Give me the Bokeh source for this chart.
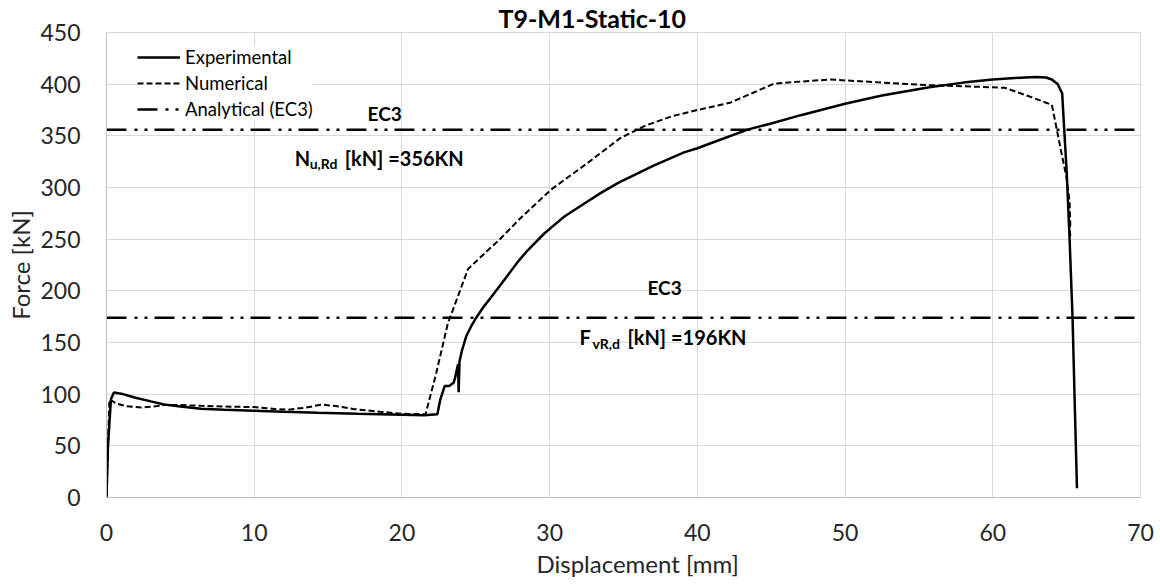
from bokeh.plotting import figure
from bokeh.models import Range1d, FixedTicker, Legend, LegendItem, Title
from bokeh.core.properties import value
from bokeh.embed import file_html
from bokeh.resources import INLINE

# ---------------- data ----------------
exp_x = [0, 0.1, 0.3, 0.5, 1.0, 1.9, 3.0, 3.9, 5.0, 6.4, 8.0, 10, 12, 14.3, 17, 20, 21.5,
         22.4, 22.6, 22.9, 23.2, 23.5, 23.6, 23.8, 23.84, 23.9, 24.06, 24.35, 24.7, 25.03,
         25.5, 26.05, 26.9, 27.9, 28.5, 29.6, 30, 31, 32.3, 33.5, 34.7, 35.3, 37, 39.1, 40,
         41.5, 43.4, 45, 47, 50, 52.5, 55.7, 58, 60, 61.5, 62.9, 63.6, 64.0, 64.4, 64.7,
         64.8, 65.0, 65.2, 65.4, 65.55, 65.7]
exp_y = [0, 50, 95, 101.6, 100.5, 96.8, 93, 90, 88, 86, 85, 84, 83, 82, 81, 80, 79.5,
         80.5, 95, 108, 108, 111, 116, 129, 102, 132, 142, 156, 166, 174,
         184, 194, 210, 229, 239, 255, 260, 272, 284, 295, 305, 309, 321, 334, 338,
         346, 356, 362, 370, 381, 389, 397, 401.5, 404.5, 406, 407, 406.5, 404.5, 400, 391,
         365, 316, 250, 174, 90, 9]

num_x = [0, 0.1, 0.2, 0.66, 1.3, 2.35, 3.2, 3.9, 5, 6.4, 8, 10, 11.5, 12.3, 13.5, 14.6,
         15.5, 16.8, 18.5, 20, 21.6, 22.3, 23.1, 24.47, 25.8, 26.5, 28, 30.1, 32.5, 34.8,
         36.5, 38.3, 40, 42.2, 43.5, 45.2, 47, 49, 52, 55.7, 58, 60.8, 62.5, 64.0, 64.6,
         65.0, 65.2, 65.25, 65.15, 65.25]
num_y = [0, 50, 95, 91, 88.5, 87, 88, 89.5, 89.5, 88.7, 88, 87.5, 85.5, 85, 87, 90,
         88.5, 85.5, 83, 81, 80.6, 119, 168, 221, 239, 248, 270, 298, 323, 348,
         360, 369, 375, 382, 390, 400.6, 402.5, 404.5, 402, 399, 398, 396.5, 388, 380, 337,
         309, 286, 262, 270, 253]

ec3_levels = [356, 174]          # analytical (EC3) force levels [kN]
x_span = [0, 70]

x_ticks = [0, 10, 20, 30, 40, 50, 60, 70]
y_ticks = [0, 50, 100, 150, 200, 250, 300, 350, 400, 450]

title_text = "T9-M1-Static-10"
x_title = "Displacement [mm]"
y_title = "Force [kN]"
legend_labels = ["Experimental", "Numerical", "Analytical (EC3)"]

# annotation positions (data coords) and texts
ec3_tag_x = [18.83, 37.78]
ec3_tag_y = [371.5, 203.5]
res_x = [12.74, 32.02]
res_y = [329, 155]
res_main = ["N", "F"]
res_sub = ["u,Rd", "vR,d"]
res_tail = ["[kN] =356KN", "[kN] =196KN"]
sub_dx = [15, 13]
tail_dx = [50, 48]

FONT = "Lato"
TXT = "#262626"
GRID = "#d9d9d9"
W, H = 1160, 585

p = figure(width=W, height=H, output_backend="svg", toolbar_location=None,
           x_range=Range1d(0, 70), y_range=Range1d(0, 450),
           min_border_left=105, min_border_right=20, min_border_top=32, min_border_bottom=88)

p.title.text = title_text
p.title.align = "left"
p.title.offset = 392
p.title.standoff = 0
p.title.text_font = FONT
p.title.text_font_size = "25px"
p.title.text_font_style = "bold"
p.title.text_color = "black"

p.xaxis.ticker = FixedTicker(ticks=x_ticks)
p.yaxis.ticker = FixedTicker(ticks=y_ticks)
for ax in (p.xaxis, p.yaxis):
    ax.major_tick_line_color = None
    ax.minor_tick_line_color = None
    ax.major_label_text_font = FONT
    ax.major_label_text_font_size = "23px"
    ax.major_label_text_color = TXT
    ax.axis_line_color = "#bfbfbf"
p.xaxis.major_label_standoff = 20
p.yaxis.major_label_standoff = 20

p.add_layout(Title(text=x_title, align="left", offset=430, standoff=7,
                   text_font=FONT, text_font_size="24px", text_font_style="normal",
                   text_color=TXT), "below")
p.add_layout(Title(text=y_title, align="center", standoff=6,
                   text_font=FONT, text_font_size="24px", text_font_style="normal",
                   text_color=TXT), "left")

p.xgrid.ticker = FixedTicker(ticks=x_ticks)
p.ygrid.ticker = FixedTicker(ticks=y_ticks)
p.grid.grid_line_color = GRID
p.grid.grid_line_width = 1
p.outline_line_color = GRID

r_exp = p.line(exp_x, exp_y, line_color="black", line_width=2.5)
r_num = p.line(num_x, num_y, line_color="black", line_width=2, line_dash="6 3")
r_an = p.multi_line([x_span, x_span], [[ec3_levels[0]] * 2, [ec3_levels[1]] * 2],
                    line_color="black", line_width=2.5, line_dash="20 8 3 7 3 7")

# annotations
p.text(ec3_tag_x, ec3_tag_y, text=["EC3", "EC3"], text_font=value(FONT),
       text_font_size="19px", text_font_style="bold", text_align="center",
       text_baseline="middle", text_color="black")
p.text(res_x, res_y, text=res_main, text_font=value(FONT), text_font_size="20px",
       text_font_style="bold", text_align="left", text_baseline="middle", text_color="black")
for xx, yy, s, dx in zip(res_x, res_y, res_sub, sub_dx):
    p.text([xx], [yy], text=[s], x_offset=dx, y_offset=6, text_font=value(FONT),
           text_font_size="14px", text_font_style="bold", text_align="left",
           text_baseline="middle", text_color="black")
for xx, yy, s, dx in zip(res_x, res_y, res_tail, tail_dx):
    p.text([xx], [yy], text=[s], x_offset=dx, text_font=value(FONT), text_font_size="20px",
           text_font_style="bold", text_align="left", text_baseline="middle",
           text_color="black")

legend = Legend(items=[LegendItem(label=legend_labels[0], renderers=[r_exp]),
                       LegendItem(label=legend_labels[1], renderers=[r_num]),
                       LegendItem(label=legend_labels[2], renderers=[r_an])],
                location=(31, 377), padding=8, spacing=4, margin=0,
                glyph_width=43, glyph_height=20, label_height=20, label_standoff=5,
                label_text_font=FONT, label_text_font_size="18.5px", label_text_color="black",
                background_fill_color="white", background_fill_alpha=1.0,
                border_line_color=None)
p.add_layout(legend)

open("out.html", "w").write(file_html(p, INLINE))
